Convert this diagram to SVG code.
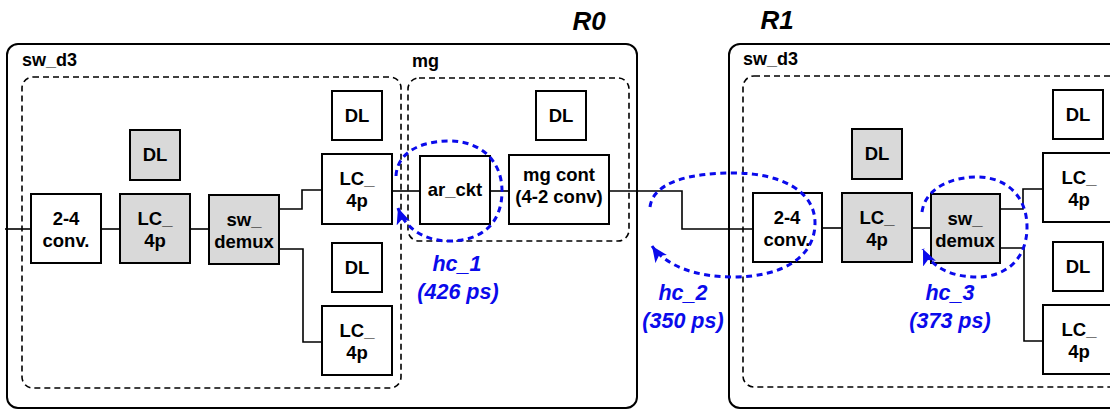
<svg xmlns="http://www.w3.org/2000/svg" width="1110" height="409" viewBox="0 0 1110 409">
<style>
  .outer{fill:none;stroke:#000;stroke-width:2}
  .dash{fill:none;stroke:#000;stroke-width:1.6;stroke-dasharray:6 4}
  .box{fill:#fff;stroke:#000;stroke-width:2}
  .gray{fill:#d9d9d9;stroke:#000;stroke-width:2}
  .t{font-family:"Liberation Sans",Arial,sans-serif;font-weight:bold;font-size:18.5px;fill:#000;text-anchor:middle}
  .lbl{font-family:"Liberation Sans",Arial,sans-serif;font-weight:bold;font-size:18px;fill:#000}
  .reg{font-family:"Liberation Sans",Arial,sans-serif;font-weight:bold;font-style:italic;font-size:26px;fill:#000;text-anchor:middle}
  .hc{font-family:"Liberation Sans",Arial,sans-serif;font-weight:bold;font-style:italic;font-size:21.5px;fill:#0a0aeb;text-anchor:middle}
  .wire{fill:none;stroke:#000;stroke-width:1.6}
  .hop{fill:none;stroke:#0a0aeb;stroke-width:3;stroke-dasharray:6 4.5}
</style>
<defs>
  <marker id="ah" markerUnits="userSpaceOnUse" markerWidth="20" markerHeight="16" refX="16" refY="7" orient="auto">
    <path d="M0,0 L16,7 L0,14 L4,7 Z" fill="#0a0aeb"/>
  </marker>
</defs>
<rect width="1110" height="409" fill="#fff"/>

<g id="regions">
  <text class="reg" x="589" y="30">R0</text>
  <text class="reg" x="777" y="29">R1</text>
  <rect id="R0" class="outer" x="7" y="44" width="630" height="364" rx="11"/>
  <rect id="R1" class="outer" x="729" y="44" width="420" height="364" rx="11"/>
  <rect id="sw_d3_0" class="dash" x="22" y="77" width="379" height="311" rx="11"/>
  <rect id="mg" class="dash" x="408" y="78" width="221" height="163" rx="11"/>
  <rect id="sw_d3_1" class="dash" x="743" y="76" width="420" height="311" rx="11"/>
  <text class="lbl" x="22" y="66">sw_d3</text>
  <text class="lbl" x="412" y="67">mg</text>
  <text class="lbl" x="743" y="65">sw_d3</text>
</g>

<g id="connectors">
  <path class="wire" d="M5,229 H31"/>
  <path class="wire" d="M101,229 H120"/>
  <path class="wire" d="M190,229 H209"/>
  <path class="wire" d="M279,209 H302 V190 H322"/>
  <path class="wire" d="M279,249 H303 V342 H322"/>
  <path class="wire" d="M392,191 H420"/>
  <path class="wire" d="M490,191 H509"/>
  <path class="wire" d="M609,191 H682 V229 H753"/>
  <path class="wire" d="M822,228 H842"/>
  <path class="wire" d="M912,228 H931"/>
  <path class="wire" d="M1000,209 H1023 V189 H1043"/>
  <path class="wire" d="M1000,248 H1024 V341 H1043"/>
</g>

<g id="n_conv0"><rect class="box" x="31" y="194" width="70" height="69"/><text class="t" x="66" y="225">2-4</text><text class="t" x="66" y="247">conv.</text></g>
<g id="n_lc0"><rect class="gray" x="120" y="194" width="70" height="69"/><text class="t" x="155" y="225">LC_</text><text class="t" x="155" y="247">4p</text></g>
<g id="n_dl0"><rect class="gray" x="130" y="130" width="50" height="50"/><text class="t" x="155" y="161">DL</text></g>
<g id="n_demux0"><rect class="gray" x="209" y="195" width="70" height="69"/><text class="t" x="244" y="226">sw_</text><text class="t" x="244" y="248">demux</text></g>
<g id="n_dl1"><rect class="box" x="332" y="91" width="50" height="49"/><text class="t" x="357" y="122">DL</text></g>
<g id="n_lc1"><rect class="box" x="322" y="154" width="70" height="70"/><text class="t" x="357" y="185">LC_</text><text class="t" x="357" y="207">4p</text></g>
<g id="n_dl2"><rect class="box" x="332" y="243" width="50" height="49"/><text class="t" x="357" y="274">DL</text></g>
<g id="n_lc2"><rect class="box" x="322" y="306" width="70" height="69"/><text class="t" x="357" y="337">LC_</text><text class="t" x="357" y="359">4p</text></g>
<g id="n_ar"><rect class="box" x="420" y="156" width="70" height="68"/><text class="t" x="455" y="196">ar_ckt</text></g>
<g id="n_mgc"><rect class="box" x="509" y="155" width="100" height="69"/><text class="t" x="559" y="181">mg cont</text><text class="t" x="559" y="203">(4-2 conv)</text></g>
<g id="n_dl3"><rect class="box" x="536" y="91" width="50" height="49"/><text class="t" x="561" y="122">DL</text></g>

<g id="n_conv1"><rect class="box" x="753" y="193" width="69" height="69"/><text class="t" x="787" y="224">2-4</text><text class="t" x="787" y="246">conv.</text></g>
<g id="n_lc3"><rect class="gray" x="842" y="193" width="70" height="69"/><text class="t" x="877" y="224">LC_</text><text class="t" x="877" y="246">4p</text></g>
<g id="n_dl4"><rect class="gray" x="852" y="129" width="50" height="50"/><text class="t" x="877" y="160">DL</text></g>
<g id="n_demux1"><rect class="gray" x="931" y="194" width="69" height="69"/><text class="t" x="965" y="225">sw_</text><text class="t" x="965" y="247">demux</text></g>
<g id="n_dl5"><rect class="box" x="1053" y="90" width="50" height="49"/><text class="t" x="1078" y="121">DL</text></g>
<g id="n_lc4"><rect class="box" x="1043" y="153" width="72" height="69"/><text class="t" x="1079" y="184">LC_</text><text class="t" x="1079" y="206">4p</text></g>
<g id="n_dl6"><rect class="box" x="1053" y="242" width="50" height="49"/><text class="t" x="1078" y="273">DL</text></g>
<g id="n_lc5"><rect class="box" x="1043" y="305" width="72" height="69"/><text class="t" x="1079" y="336">LC_</text><text class="t" x="1079" y="358">4p</text></g>

<g id="hops">
  <path class="hop" marker-end="url(#ah)" d="M396,176 C397,153 420,141 449,141 C481,141 502,161 502,191 C502,224 481,241 449,241 C424,241 405,228 398,208"/>
  <path class="hop" marker-end="url(#ah)" d="M650,207 C653,182 690,173 733,173 C781,173 815,191 815,223 C815,258 781,277 733,277 C696,277 666,266 652,246"/>
  <path class="hop" marker-end="url(#ah)" d="M922,212 C925,189 950,177 977,177 C1006,177 1027,196 1027,227 C1027,259 1006,277 977,277 C951,277 931,267 923,249"/>
  <text class="hc" x="457" y="271">hc_1</text>
  <text class="hc" x="458" y="299">(426 ps)</text>
  <text class="hc" x="683" y="300">hc_2</text>
  <text class="hc" x="683" y="328">(350 ps)</text>
  <text class="hc" x="950" y="300">hc_3</text>
  <text class="hc" x="950" y="328">(373 ps)</text>
</g>
</svg>
